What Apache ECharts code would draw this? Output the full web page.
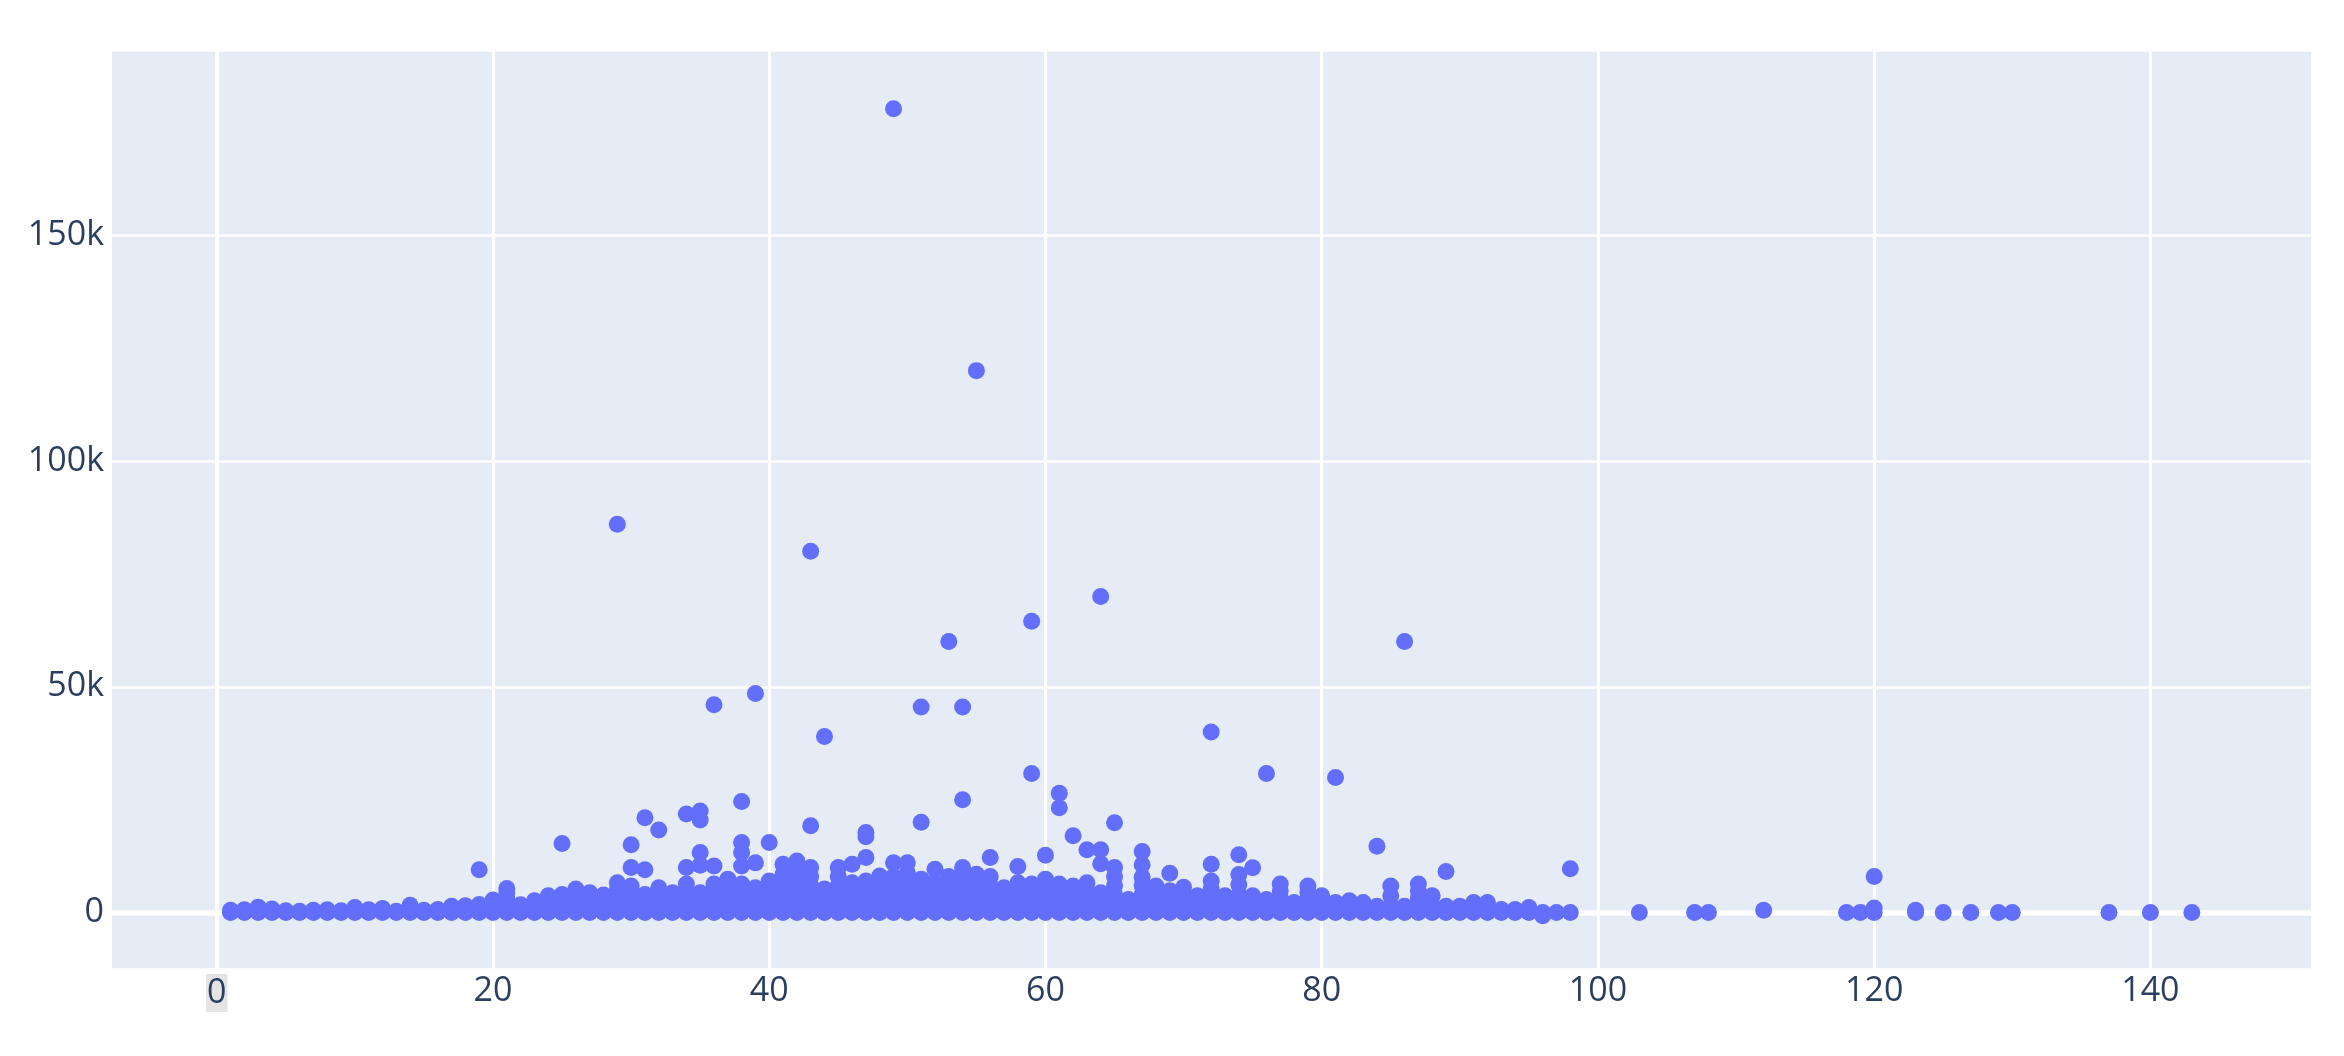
<!DOCTYPE html>
<html>
<head>
<meta charset="utf-8">
<script src="https://cdn.jsdelivr.net/npm/echarts@6/dist/echarts.min.js"></script>
<style>
    html, body { margin: 0; padding: 0; background: #fff; }
    #chart { width: 2344px; height: 1056px; }
</style>
</head>
<body>
<div id="chart"></div>
<script>
// x positions (integer categories)
const xValues = [
    1, 2, 3, 4, 5, 6, 7, 8, 9, 10, 11, 12, 13, 14, 15, 16, 17, 18, 19, 20,
    21, 22, 23, 24, 25, 26, 27, 28, 29, 30, 31, 32, 33, 34, 35, 36, 37, 38, 39, 40,
    41, 42, 43, 44, 45, 46, 47, 48, 49, 50, 51, 52, 53, 54, 55, 56, 57, 58, 59, 60,
    61, 62, 63, 64, 65, 66, 67, 68, 69, 70, 71, 72, 73, 74, 75, 76, 77, 78, 79, 80,
    81, 82, 83, 84, 85, 86, 87, 88, 89, 90, 91, 92, 93, 94, 95, 96, 97, 98,
    103, 107, 108, 112, 118, 119, 120, 123, 125, 127, 129, 130, 137, 140, 143
];

// y values found at each x (same order as xValues)
const yGroups = [
    [0, 200, 500], [0, 300, 600], [0, 400, 1200], [0, 300, 800], [0, 200, 400],
    [0, 300], [0, 200, 500], [0, 300, 600], [0, 400], [0, 500, 1100],
    [0, 300, 600], [0, 400, 900], [0, 300], [0, 600, 1600], [0, 300, 500],
    [0, 400, 700], [0, 600, 1400], [0, 700, 1500], [0, 800, 1800, 9500], [0, 1200, 2800],
    [0, 1500, 3000, 4400, 5300], [0, 800, 1700], [0, 1200, 2600], [0, 1500, 3700], [0, 1800, 4000, 15300],
    [0, 1800, 3500, 5200], [0, 1800, 3200, 4400], [0, 1500, 2800, 3900], [0, 1800, 3500, 5000, 6600, 86000], [0, 1800, 3500, 4800, 5900, 10000, 15000],
    [0, 1500, 2800, 4000, 9500, 21000], [0, 1800, 3500, 5500, 18300], [0, 1800, 3200, 4400], [0, 1800, 3500, 5000, 6300, 10000, 21800], [0, 1800, 3200, 4400, 10500, 13300, 20500, 22500],
    [0, 1800, 3500, 5000, 6300, 10300, 46000], [0, 2000, 4000, 5800, 7400], [0, 1800, 3500, 5000, 6300, 10300, 13300, 15500, 24600], [0, 1800, 3500, 5500, 11000, 48500], [0, 2000, 4000, 5600, 7000, 15500],
    [0, 2000, 4000, 6000, 8500, 10700], [0, 2200, 4500, 6800, 9000, 11400], [0, 2000, 4000, 6000, 8000, 10000, 19200, 80000], [0, 1800, 3500, 5200, 39000], [0, 2000, 4000, 6000, 8000, 10000],
    [0, 1800, 3500, 5000, 6600, 10700], [0, 1800, 3500, 5200, 7000, 12200, 16800, 17700], [0, 2000, 4000, 6000, 8100], [0, 2000, 4000, 6000, 8000, 11000, 178000], [0, 2200, 4400, 6600, 8800, 11000],
    [0, 1800, 3500, 5500, 7400, 20000, 45500], [0, 2200, 4400, 6600, 9600], [0, 2000, 4000, 6000, 8000, 60000], [0, 2200, 4400, 6600, 8500, 10000, 25000, 45500], [0, 2000, 4000, 6000, 8500, 120000],
    [0, 2000, 4000, 6000, 8000, 12200], [0, 1800, 3500, 5500], [0, 1800, 3500, 5000, 6600, 10200], [0, 1800, 3500, 5000, 6300, 30800, 64500], [0, 1800, 3600, 5500, 7400, 12700],
    [0, 1800, 3500, 5000, 6300, 23200, 26400], [0, 1800, 3800, 5900, 17000], [0, 1800, 3500, 5000, 6600, 13900], [0, 1500, 3000, 4400, 10800, 13900, 70000], [0, 2000, 4000, 6000, 8000, 10000, 19900],
    [0, 1500, 2900], [0, 2000, 4000, 6000, 7800, 10600, 13500], [0, 1800, 3800, 5900], [0, 1600, 3200, 4800, 8700], [0, 1800, 3700, 5600],
    [0, 1500, 3700], [0, 1800, 3500, 5200, 7000, 10700, 40000], [0, 1500, 3700], [0, 2000, 4000, 6200, 8400, 12800], [0, 1500, 3700, 9900],
    [0, 1500, 2900, 30800], [0, 1600, 3200, 4800, 6300], [0, 1000, 2200], [0, 1500, 3000, 4500, 5900], [0, 1500, 3700],
    [0, 1000, 2200, 29900], [0, 1200, 2600], [0, 1000, 2200], [0, 700, 1400, 14700], [0, 1500, 3700, 5900],
    [0, 700, 1400, 60000], [0, 1600, 3200, 4800, 6300], [0, 1500, 3700], [0, 700, 1400, 9100], [0, 700, 1400],
    [0, 1000, 2200], [0, 1000, 2200], [0, 700], [0, 700], [0, 1100],
    [-700, 0], [0], [0, 9700],
    [0], [0], [0], [500], [0], [0], [0, 1000, 8000], [0, 500], [0], [0], [0], [0], [0], [0], [0]
];

const xTicks = [0, 20, 40, 60, 80, 100, 120, 140];
const yTicks = [0, 50000, 100000, 150000];

let points = [];
xValues.forEach((x, i) => {
    yGroups[i].forEach(y => {
        points.push([x, y]);
    });
});

let chart = echarts.init(document.getElementById('chart'));

let labelColor = '#2a3f5f';
let option = {
    backgroundColor: '#ffffff',
    textStyle: { fontFamily: 'Open Sans' },
    grid: {
        left: 110,
        right: 32,
        top: 50,
        bottom: 87,
        show: true,
        backgroundColor: '#e5ecf6',
        borderWidth: 0
    },
    xAxis: {
        type: 'value',
        min: -7.73,
        max: 151.7,
        splitNumber: 8,
        axisLine: { show: false },
        axisTick: { show: false },
        splitLine: { show: true, lineStyle: { color: '#ffffff', width: 3 } },
        axisLabel: {
            showMinLabel: false,
            showMaxLabel: false,
            margin: 5,
            color: labelColor,
            fontSize: 34,
            fontFamily: 'Open Sans',
            formatter: function(value) {
                if (xTicks.indexOf(value) < 0) {
                    return '';
                }
                return value === 0 ? '{hl|0}' : value + '';
            },
            rich: {
                hl: {
                    backgroundColor: '#e4e4e4',
                    color: labelColor,
                    fontSize: 34,
                    fontFamily: 'Open Sans',
                    padding: [2, 1, 2, 1]
                }
            }
        }
    },
    yAxis: {
        type: 'value',
        min: -12500,
        max: 191000,
        splitNumber: 4,
        axisLine: { show: false },
        axisTick: { show: false },
        splitLine: { show: true, lineStyle: { color: '#ffffff', width: 2.5 } },
        axisLabel: {
            showMinLabel: false,
            showMaxLabel: false,
            margin: 6,
            color: labelColor,
            fontSize: 34,
            fontFamily: 'Open Sans',
            formatter: function(value) {
                if (yTicks.indexOf(value) < 0) {
                    return '';
                }
                return value === 0 ? '0' : (value / 1000) + 'k';
            }
        }
    },
    series: [
        {
            // zero lines under the points
            type: 'scatter',
            data: [],
            z: 1,
            silent: true,
            markLine: {
                z: 1,
                silent: true,
                symbol: 'none',
                label: { show: false },
                animation: false,
                data: [
                    { yAxis: 0, lineStyle: { color: '#ffffff', width: 5.5, type: 'solid' } },
                    { xAxis: 0, lineStyle: { color: '#ffffff', width: 4, type: 'solid' } }
                ]
            }
        },
        {
            type: 'scatter',
            data: points,
            z: 3,
            symbol: 'circle',
            symbolSize: 17,
            itemStyle: { color: '#636efa', opacity: 1 },
            animation: false
        }
    ]
};
chart.setOption(option, true);
window.onresize = () => {
    chart.resize();
};
</script>
</body>
</html>
